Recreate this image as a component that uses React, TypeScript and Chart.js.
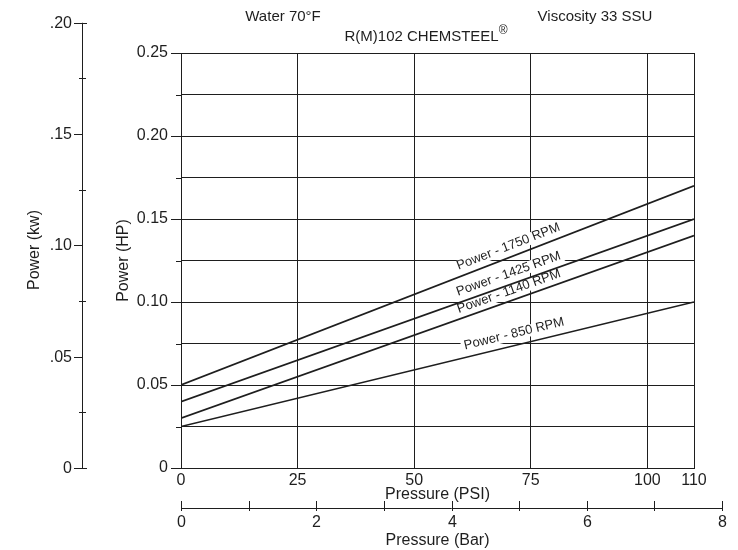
import React, { useEffect, useRef } from "react";
import { Chart, registerables } from "chart.js";

Chart.register(...registerables);

// ---- data ----
const pressurePsi = [0, 110];
const power1750 = [0.05, 0.17];
const power1425 = [0.04, 0.15];
const power1140 = [0.03, 0.14];
const power850 = [0.025, 0.1];
const seriesLabels = ["Power - 1750 RPM", "Power - 1425 RPM", "Power - 1140 RPM", "Power - 850 RPM"];
const psiTicks = [0, 25, 50, 75, 100, 110];
const hpTicks = [0, 0.025, 0.05, 0.075, 0.1, 0.125, 0.15, 0.175, 0.2, 0.225, 0.25];
const kwTicks = [0, 0.025, 0.05, 0.075, 0.1, 0.125, 0.15, 0.175, 0.2];
const kwMajor = [0, 0.05, 0.1, 0.15, 0.2];
const kwMajorLabels = ["0", ".05", ".10", ".15", ".20"];
const barTicks = [0, 1, 2, 3, 4, 5, 6, 7, 8];
const barLabelTicks = [0, 2, 4, 6, 8];
const HP_TO_KW = 0.7457;
const PSI_PER_BAR = 14.5038;

// ---- style / placement ----
const FONT = '"Liberation Sans", Arial, Helvetica, sans-serif';
const INK = "#1e1e1e";
const labelAtPsi = [71, 71, 71, 72];
const labelOffset = [4, 4, 3, 5];
const KW_AXIS_X = 82;
const BAR_AXIS_Y = 508;

const allSeries = [power1750, power1425, power1140, power850];
const isMajorHp = (n: number) => Math.abs(n * 20 - Math.round(n * 20)) < 1e-6;

function lineGeom(chart: any, i: number) {
  const xs = chart.scales.x;
  const ys = chart.scales.y;
  const vals = allSeries[i];
  const x0 = xs.getPixelForValue(pressurePsi[0]);
  const y0 = ys.getPixelForValue(vals[0]);
  const x1 = xs.getPixelForValue(pressurePsi[1]);
  const y1 = ys.getPixelForValue(vals[1]);
  const ang = Math.atan2(y1 - y0, x1 - x0);
  const px = xs.getPixelForValue(labelAtPsi[i]);
  const t = (px - x0) / (x1 - x0);
  return { cx: x0 + t * (x1 - x0), cy: y0 + t * (y1 - y0), ang };
}

const decor = {
  id: "decor",
  beforeDatasetsDraw(chart: any) {
    const ctx = chart.ctx;
    ctx.save();
    ctx.font = `13px ${FONT}`;
    for (let i = 0; i < allSeries.length; i++) {
      const g = lineGeom(chart, i);
      const w = ctx.measureText(seriesLabels[i]).width;
      ctx.save();
      ctx.translate(g.cx, g.cy);
      ctx.rotate(g.ang);
      ctx.fillStyle = "#ffffff";
      ctx.fillRect(-w / 2 - 3, -labelOffset[i] - 12, w + 6, 12);
      ctx.restore();
    }
    ctx.restore();
  },
  afterDraw(chart: any) {
    const ctx = chart.ctx;
    const xs = chart.scales.x;
    const ys = chart.scales.y;
    ctx.save();
    ctx.fillStyle = INK;
    ctx.strokeStyle = INK;
    ctx.lineWidth = 1;

    // short minor ticks on the HP axis
    for (const h of hpTicks) {
      if (isMajorHp(h)) continue;
      const y = Math.round(ys.getPixelForValue(h)) + 0.5;
      ctx.beginPath();
      ctx.moveTo(xs.left - 5, y);
      ctx.lineTo(xs.left, y);
      ctx.stroke();
    }

    // header texts
    ctx.font = `15px ${FONT}`;
    ctx.textAlign = "center";
    ctx.textBaseline = "middle";
    ctx.fillText("Water 70°F", 283, 17);
    ctx.fillText("Viscosity 33 SSU", 595, 17);
    const main = "R(M)102 CHEMSTEEL";
    const wMain = ctx.measureText(main).width;
    ctx.font = `12px ${FONT}`;
    const wReg = ctx.measureText("®").width;
    const start = 426 - (wMain + wReg) / 2;
    ctx.textAlign = "left";
    ctx.font = `15px ${FONT}`;
    ctx.fillText(main, start, 37);
    ctx.font = `12px ${FONT}`;
    ctx.fillText("®", start + wMain, 31);

    // line labels
    ctx.font = `13px ${FONT}`;
    ctx.textAlign = "center";
    ctx.textBaseline = "bottom";
    for (let i = 0; i < allSeries.length; i++) {
      const g = lineGeom(chart, i);
      ctx.save();
      ctx.translate(g.cx, g.cy);
      ctx.rotate(g.ang);
      ctx.fillText(seriesLabels[i], 0, -labelOffset[i]);
      ctx.restore();
    }

    // kW axis
    const kwPix = (kw: number) => ys.getPixelForValue(kw / HP_TO_KW);
    ctx.beginPath();
    ctx.moveTo(KW_AXIS_X + 0.5, kwPix(kwTicks[0]));
    ctx.lineTo(KW_AXIS_X + 0.5, kwPix(kwTicks[kwTicks.length - 1]));
    ctx.stroke();
    ctx.font = `16px ${FONT}`;
    ctx.textAlign = "right";
    ctx.textBaseline = "middle";
    for (const k of kwTicks) {
      const y = Math.round(kwPix(k)) + 0.5;
      const mi = kwMajor.findIndex((m) => Math.abs(m - k) < 1e-9);
      ctx.beginPath();
      if (mi >= 0) {
        const isEnd = k === kwTicks[0] || k === kwTicks[kwTicks.length - 1];
        ctx.moveTo(KW_AXIS_X - 8, y);
        ctx.lineTo(KW_AXIS_X + (isEnd ? 5 : 1), y);
        ctx.stroke();
        ctx.fillText(kwMajorLabels[mi], KW_AXIS_X - 10, y);
      } else {
        ctx.moveTo(KW_AXIS_X - 3, y);
        ctx.lineTo(KW_AXIS_X + 4, y);
        ctx.stroke();
      }
    }
    ctx.save();
    ctx.translate(35, 250);
    ctx.rotate(-Math.PI / 2);
    ctx.textAlign = "center";
    ctx.textBaseline = "middle";
    ctx.font = `16px ${FONT}`;
    ctx.fillText("Power (kw)", 0, 0);
    ctx.restore();

    // Bar axis
    const barPix = (b: number) => xs.getPixelForValue(b * PSI_PER_BAR);
    ctx.beginPath();
    ctx.moveTo(barPix(barTicks[0]), BAR_AXIS_Y + 0.5);
    ctx.lineTo(barPix(barTicks[barTicks.length - 1]), BAR_AXIS_Y + 0.5);
    ctx.stroke();
    ctx.textAlign = "center";
    ctx.textBaseline = "middle";
    ctx.font = `16px ${FONT}`;
    for (const b of barTicks) {
      const x = Math.round(barPix(b)) + 0.5;
      ctx.beginPath();
      ctx.moveTo(x, BAR_AXIS_Y - 7);
      ctx.lineTo(x, BAR_AXIS_Y + 3);
      ctx.stroke();
      if (barLabelTicks.includes(b)) ctx.fillText(String(b), x, BAR_AXIS_Y + 15);
    }
    ctx.fillText("Pressure (Bar)", (xs.left + xs.right) / 2, BAR_AXIS_Y + 33);
    ctx.restore();
  },
};

export default function App() {
  const ref = useRef<HTMLCanvasElement>(null);
  useEffect(() => {
    document.body.style.margin = "0";
    const canvas = ref.current!;
    const mk = (vals: number[]) => pressurePsi.map((p, i) => ({ x: p, y: vals[i] }));
    const ds = (label: string, vals: number[]) => ({
      label,
      data: mk(vals),
      borderColor: INK,
      borderWidth: 1.7,
      pointRadius: 0,
      fill: false,
      tension: 0,
    });
    const chart = new Chart(canvas, {
      type: "line",
      data: {
        datasets: [
          ds(seriesLabels[0], power1750),
          ds(seriesLabels[1], power1425),
          ds(seriesLabels[2], power1140),
          ds(seriesLabels[3], power850),
        ],
      },
      options: {
        animation: false,
        responsive: false,
        devicePixelRatio: 1,
        layout: { padding: { left: 114, top: 53, right: 44, bottom: 46 } },
        plugins: { legend: { display: false }, tooltip: { enabled: false }, title: { display: false } },
        scales: {
          x: {
            type: "linear",
            min: 0,
            max: 110,
            afterBuildTicks: (s: any) => {
              s.ticks = psiTicks.map((v) => ({ value: v }));
            },
            afterFit: (s: any) => {
              s.height = 36;
            },
            grid: { color: INK, lineWidth: 1, drawTicks: false },
            border: { display: true, color: INK, width: 1 },
            ticks: {
              color: INK,
              font: { family: FONT, size: 16 },
              padding: 3,
              maxRotation: 0,
              autoSkip: false,
              callback: (v: any) => String(v),
            },
            title: {
              display: true,
              text: "Pressure (PSI)",
              color: INK,
              font: { family: FONT, size: 16 },
              padding: { top: 0, bottom: 0 },
            },
          },
          y: {
            type: "linear",
            min: 0,
            max: 0.25,
            afterBuildTicks: (s: any) => {
              s.ticks = hpTicks.map((v) => ({ value: v }));
            },
            afterFit: (s: any) => {
              s.width = 67;
            },
            grid: {
              color: INK,
              lineWidth: 1,
              tickLength: 10,
              tickColor: (c: any) => (c.tick && isMajorHp(c.tick.value) ? INK : "rgba(0,0,0,0)"),
            },
            border: { display: true, color: INK, width: 1 },
            ticks: {
              color: INK,
              font: { family: FONT, size: 16 },
              padding: 3,
              autoSkip: false,
              callback: (v: any) => {
                const n = Number(v);
                if (!isMajorHp(n)) return "";
                return n === 0 ? "0" : n.toFixed(2);
              },
            },
            title: {
              display: true,
              text: "Power (HP)",
              color: INK,
              font: { family: FONT, size: 16 },
              padding: { top: 0, bottom: 0 },
            },
          },
        },
      },
      plugins: [decor],
    });
    return () => chart.destroy();
  }, []);
  return (
    <canvas
      ref={ref}
      width={738}
      height={550}
      style={{ display: "block", width: 738, height: 550 }}
    />
  );
}
